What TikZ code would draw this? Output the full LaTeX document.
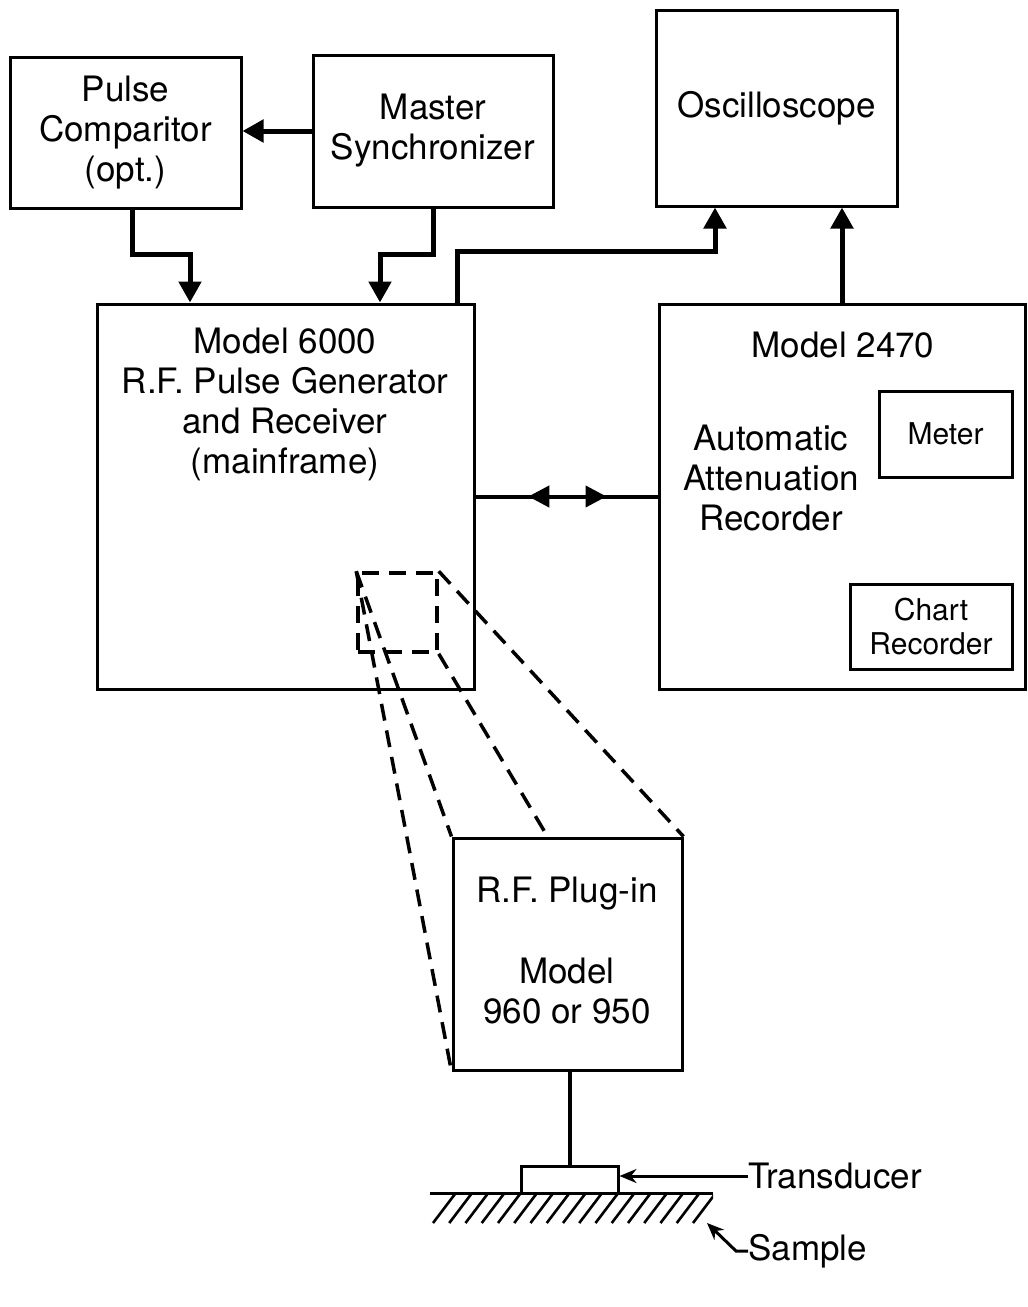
\documentclass[tikz,border=0pt]{standalone}
\usepackage{fontspec}
\setmainfont{TeX Gyre Heros}
\usetikzlibrary{arrows.meta,decorations.markings}
\begin{document}
\begin{tikzpicture}[x=1pt,y=-1pt,
  box/.style={draw, line width=3pt, rectangle, inner sep=0pt, align=center,
    font=\fontsize{35}{40}\selectfont},
  smallbox/.style={box, font=\fontsize{30}{34}\selectfont},
  txt/.style={inner sep=0pt, align=center, font=\fontsize{35}{40}\selectfont},
  conn/.style={line width=5pt, -{Triangle[width=22pt,length=21pt]}},
  plain/.style={line width=4pt},
  dsh/.style={line width=3.5pt, dash pattern=on 17pt off 10pt},
  thinarrow/.style={line width=3pt, -{Stealth[length=17pt,width=14pt]}}
]
\useasboundingbox (0,0) rectangle (1028,1307);
\fill[white] (0,0) rectangle (1028,1307);

% boxes
\node[box, minimum width=231pt, minimum height=151pt] (pc) at (125.5,132.5) {Pulse\\Comparitor\\(opt.)};
\node[box, minimum width=240pt, minimum height=152pt] (ms) at (433,131) {Master\\Synchronizer};
\node[box, minimum width=241pt, minimum height=196pt] (osc) at (776.5,108) {Oscilloscope};
\node[box, minimum width=377pt, minimum height=385pt] (m6000) at (285.5,496.5) {};
\node[box, minimum width=366pt, minimum height=385pt] (m2470) at (842,496.5) {};
\node[smallbox, minimum width=133pt, minimum height=86pt] (meter) at (945.5,434) {Meter};
\node[smallbox, minimum width=162pt, minimum height=85pt] (chart) at (931,626.5) {Chart\\Recorder};
\node[box, minimum width=229pt, minimum height=232pt] (plug) at (567.5,954) {};
\node[box, minimum width=97pt, minimum height=27pt] (trans) at (569.5,1179.5) {};

% texts inside large boxes
\node[txt] (t6000) at (285,404) {Model 6000\\R.F. Pulse Generator\\and Receiver\\(mainframe)};
\node[txt] (t2470) at (843,345) {Model 2470};
\node[txt] (taar) at (771,478) {Automatic\\Attenuation\\Recorder};
\node[txt] (tplug) at (567,950) {R.F. Plug-in\\[41pt]Model\\960 or 950};

% connectors
\draw[conn] (ms.west) -- (ms.west -| pc.east);
\draw[conn] ([xshift=6.5pt]pc.south) -- ++(0,45) -| ([xshift=-95.5pt]m6000.north);
\draw[conn] (ms.south) -- ++(0,46) -| ([xshift=94.5pt]m6000.north);
\draw[conn] ([xshift=171.5pt]m6000.north) -- ++(0,-51) -| ([xshift=-61.5pt]osc.south);
\draw[conn] (m2470.north) -- (m2470.north |- osc.south);
\draw[plain, postaction={decorate}, decoration={markings,
    mark=at position 0.29 with {\arrowreversed{Triangle[width=21pt,length=21pt]}},
    mark=at position 0.72 with {\arrow{Triangle[width=21pt,length=21pt]}}}]
  (m6000.east) -- (m2470.west);

% dashed detail
\node[draw, dsh, minimum width=79pt, minimum height=79pt, inner sep=0pt] (sq) at (397.5,612.5) {};
\draw[dsh] (sq.north west) -- (plug.south west);
\draw[dsh] (sq.north west) -- (plug.north west);
\draw[dsh] (sq.south east) -- ([xshift=-20pt]plug.north);
\draw[dsh] (sq.north east) -- (plug.north east);

% transducer and sample
\draw[plain] (plug.south -| trans.north) -- (trans.north);
\coordinate (gl) at (430,1193);
\coordinate (gr) at (713,1193);
\draw[line width=3pt] (gl) -- (gr);
\begin{scope}
  \clip (430,1193) rectangle (713,1226);
  \foreach \i in {0,...,16} {
    \draw[line width=2.6pt] ({433+16.25*\i},1223) -- ({455+16.25*\i},1194);
  }
\end{scope}
\node[txt, anchor=west] (tl) at (748,1176) {Transducer};
\draw[thinarrow] (tl.west) -- (tl.west -| trans.east);
\node[txt, anchor=west] (sl) at (748,1251) {Sample};
\coordinate (stip) at (707,1223);
\draw[thinarrow] (sl.west) -- ++(-12,0) -- (stip);
\end{tikzpicture}
\end{document}
